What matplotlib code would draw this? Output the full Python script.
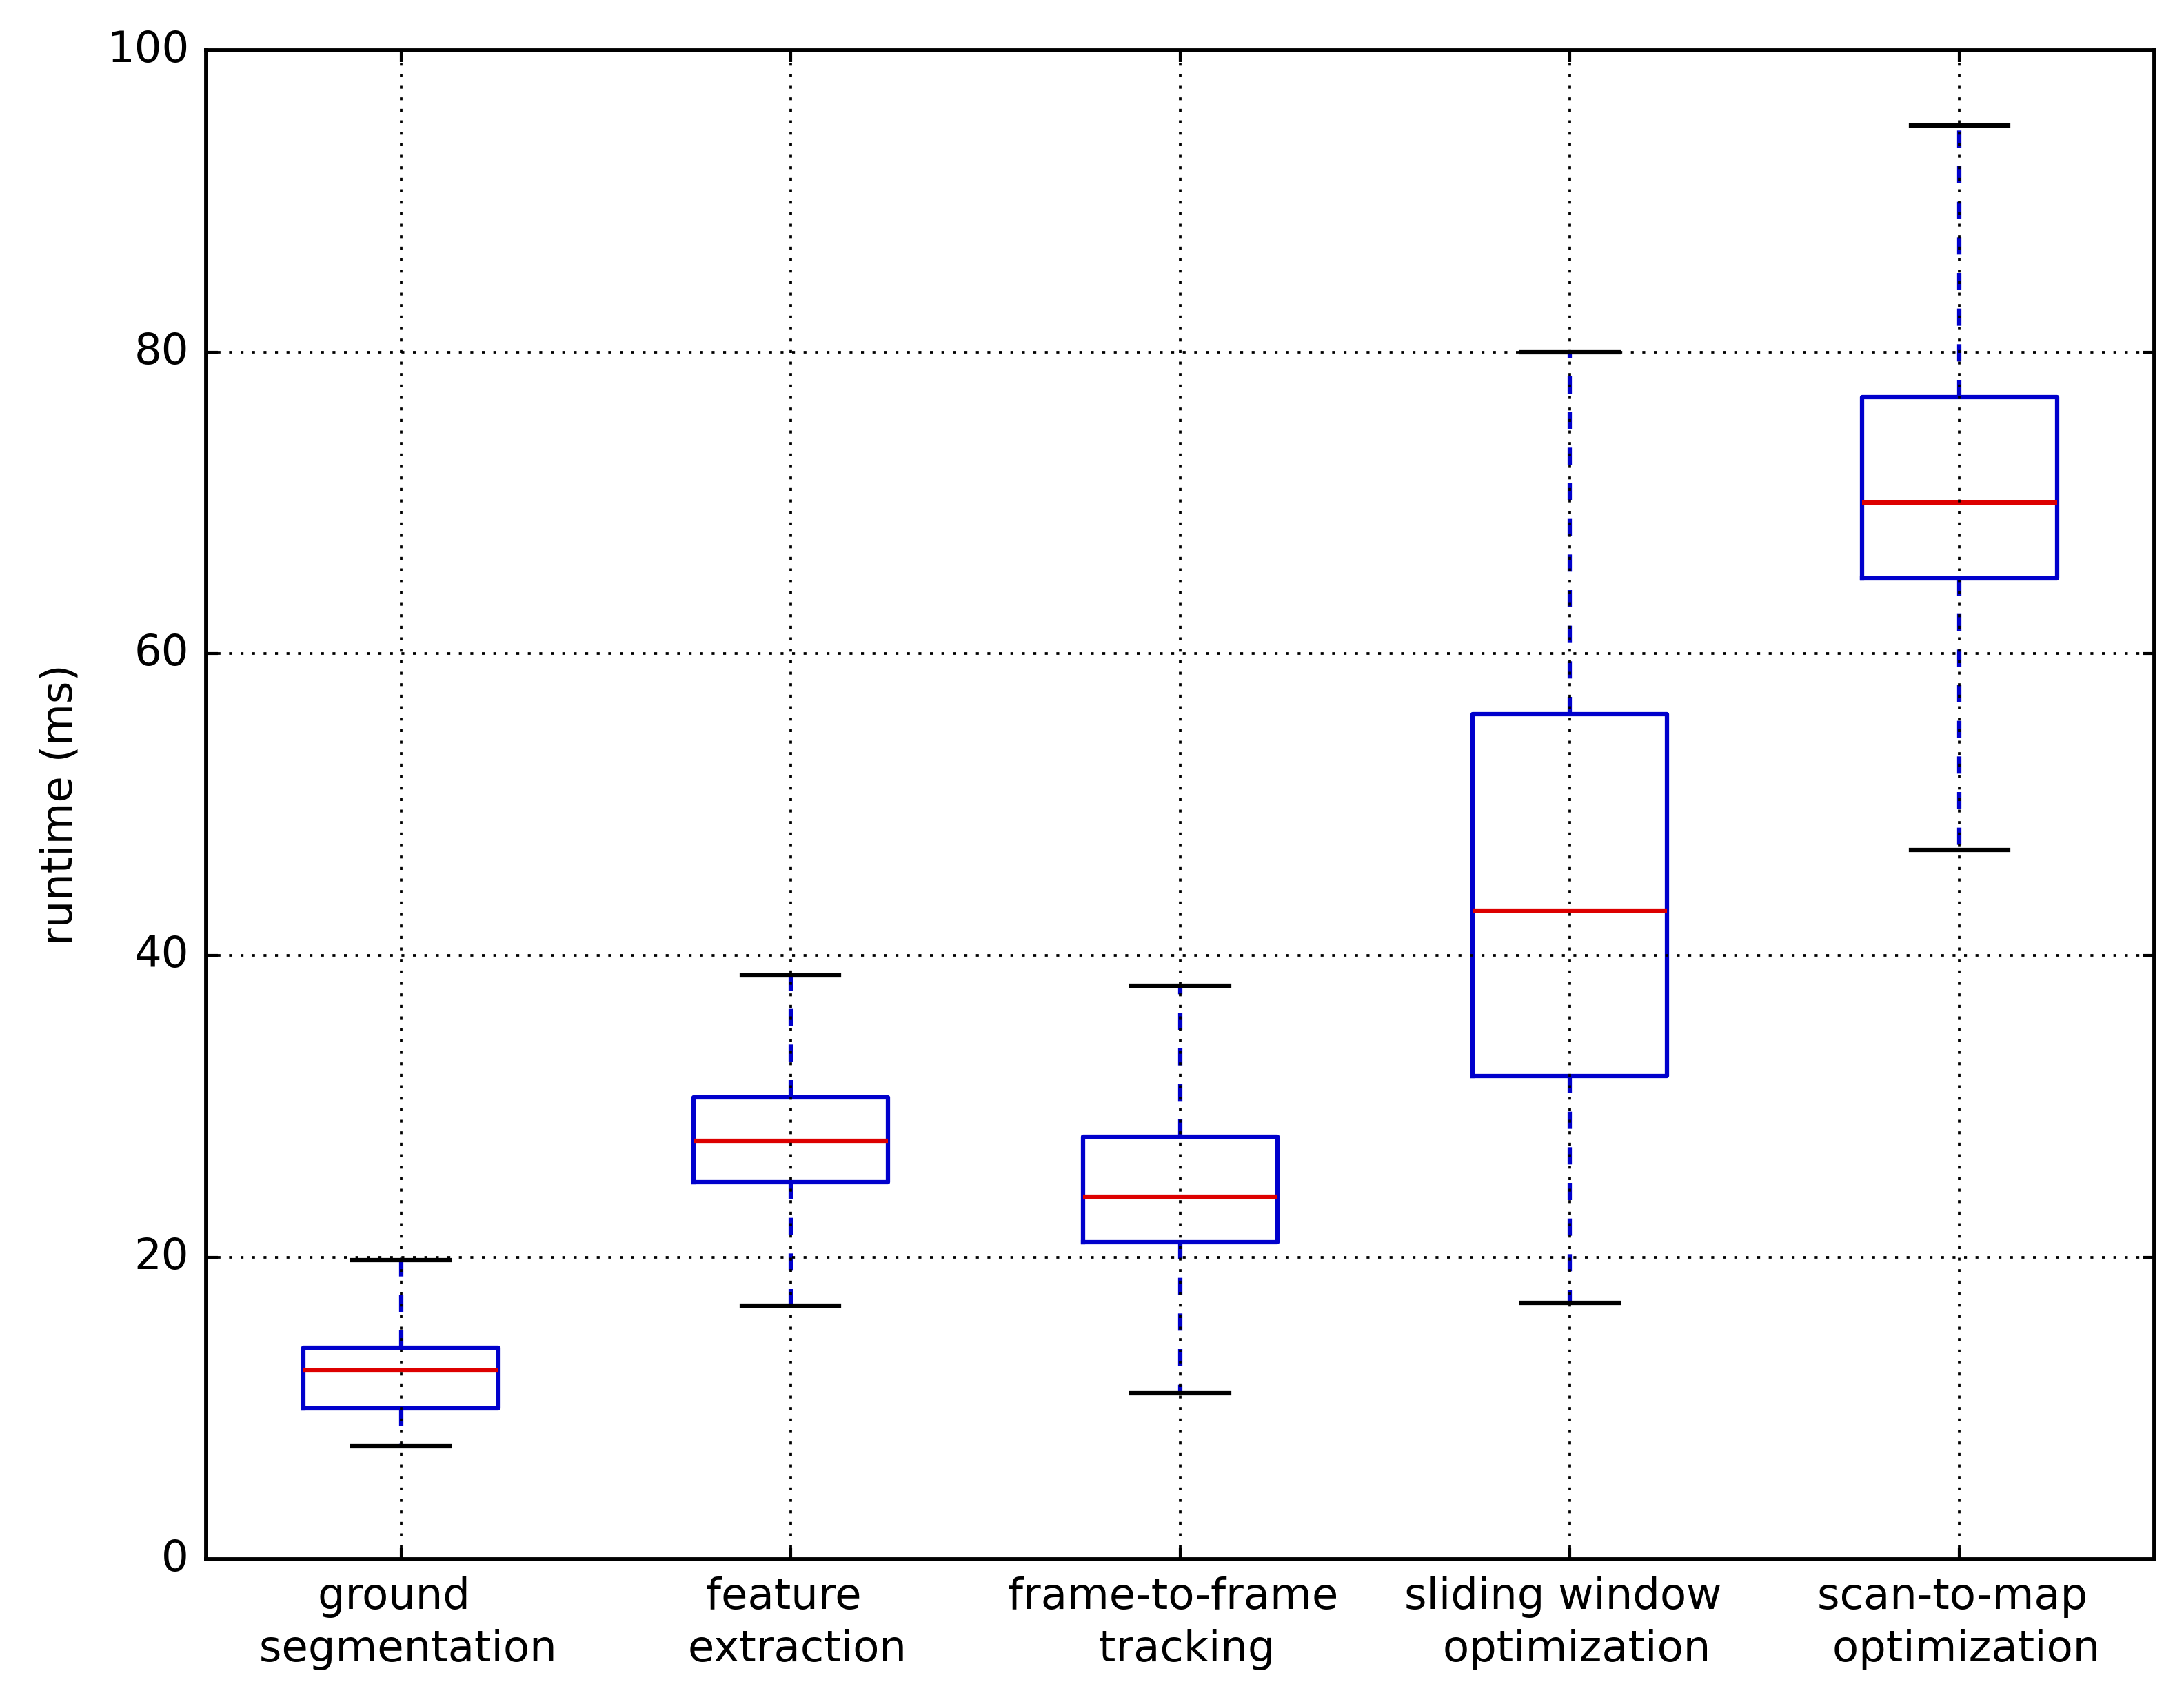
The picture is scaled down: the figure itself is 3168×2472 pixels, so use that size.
import matplotlib
matplotlib.use('Agg')
from matplotlib import pyplot as plt

labels = ['ground \n segmentation', 'feature \n extraction', 'frame-to-frame \n tracking',
          'sliding window \n optimization', 'scan-to-map \n optimization']
whislo = [7.5, 16.8, 11.0, 17.0, 47.0]
q1 = [10.0, 25.0, 21.0, 32.0, 65.0]
med = [12.5, 27.7, 24.0, 43.0, 70.0]
q3 = [14.0, 30.6, 28.0, 56.0, 77.0]
whishi = [19.8, 38.7, 38.0, 80.0, 95.0]

plt.style.use('classic')
plt.rcParams['font.size'] = 15
plt.rcParams['axes.linewidth'] = 1.4

stats = []
for i in range(len(labels)):
    stats.append(dict(label=labels[i], whislo=whislo[i], q1=q1[i], med=med[i],
                      q3=q3[i], whishi=whishi[i], fliers=[]))

fig = plt.figure(figsize=(10.56, 8.24), dpi=300, facecolor='white')
ax = fig.add_axes([0.0944, 0.085, 0.892, 0.8856])
ax.bxp(stats, widths=0.5, showfliers=False,
       boxprops=dict(color='#0000cc', linewidth=1.5),
       whiskerprops=dict(color='#0000cc', linestyle=(0, (6, 6.4)), linewidth=1.5),
       capprops=dict(color='k', linewidth=1.5),
       medianprops=dict(color='#dd0000', linewidth=1.5))
ax.set_xlim(0.5, 5.5)
ax.set_ylim(0, 100)
ax.set_ylabel('runtime (ms)', labelpad=9)
ax.grid(True, color='k', linestyle=':', linewidth=0.9)
ax.tick_params(labelsize=15, pad=6, width=1.0)
for t in ax.get_xticklabels():
    t.set_linespacing(1.35)

fig.savefig('out.png', dpi=300, facecolor='white')
